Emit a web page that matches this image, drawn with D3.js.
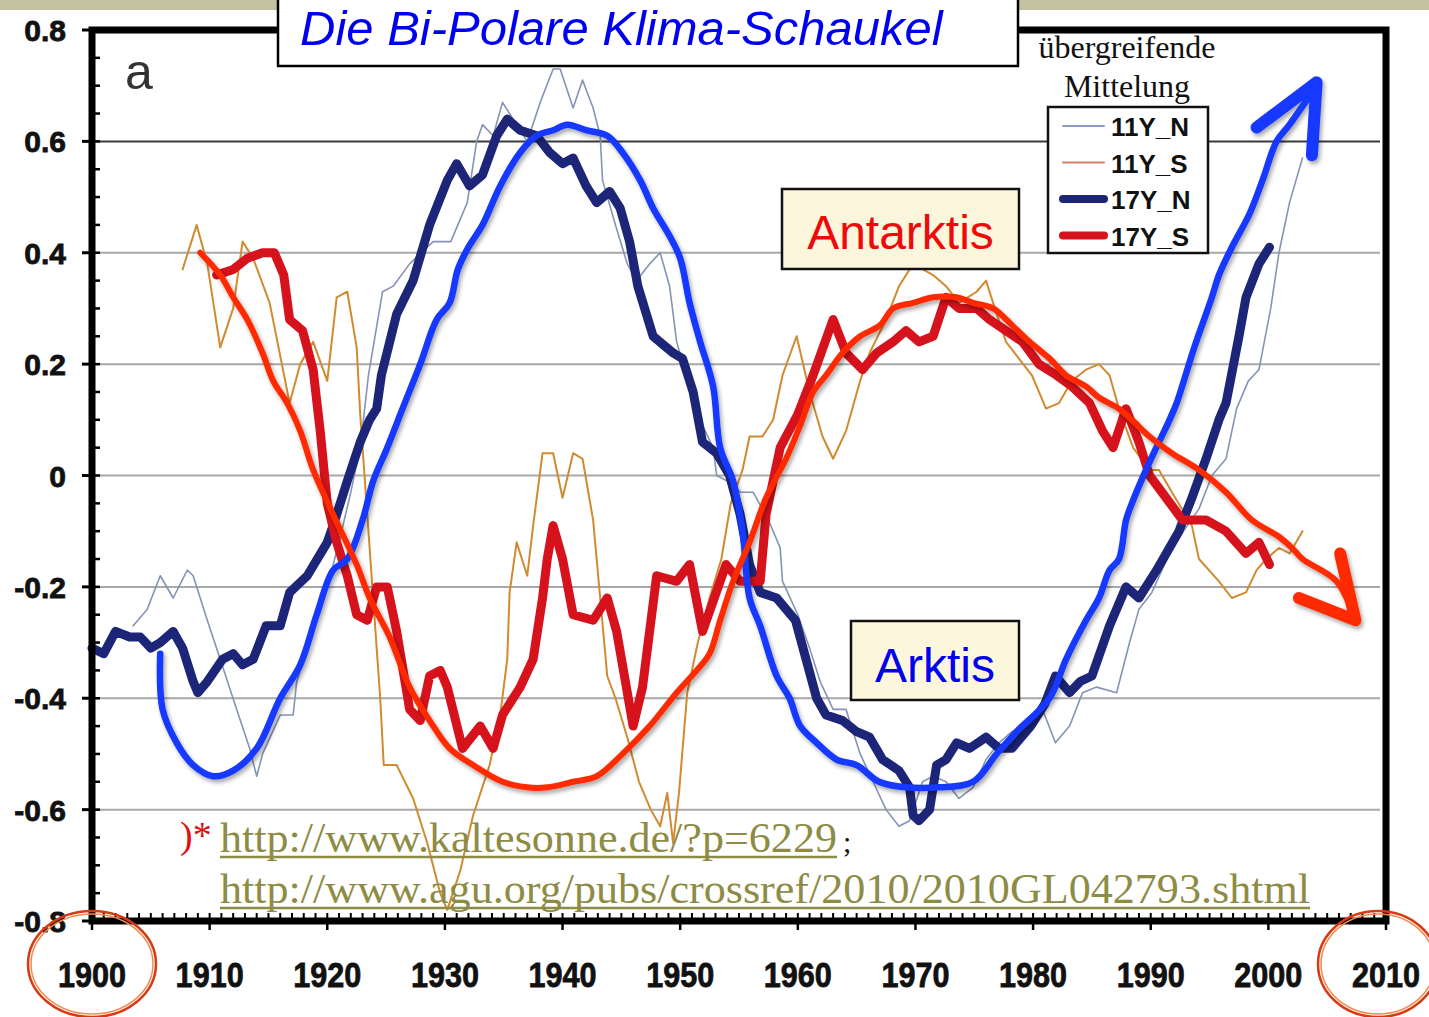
<!DOCTYPE html>
<html>
<head>
<meta charset="utf-8">
<script src="https://cdnjs.cloudflare.com/ajax/libs/d3/7.8.5/d3.min.js"></script>
<style>
body { margin: 0; background: #fff; }
svg { display: block; }
</style>
</head>
<body>
<div id="chart"></div>
<script>
// values: [year, anomaly]
var north11 = [[1903.5,-0.27],[1904.7,-0.24],[1905.8,-0.18],[1906.9,-0.22],[1908.1,-0.17],[1908.6,-0.18],[1909.8,-0.26],[1910.9,-0.33],[1912.3,-0.42],[1913.4,-0.49],[1914,-0.54],[1914.5,-0.50],[1916,-0.43],[1917.1,-0.43],[1917.4,-0.37],[1918.5,-0.30],[1920,-0.20],[1921,-0.12],[1922,-0.03],[1922.8,0.05],[1923.5,0.18],[1924.7,0.33],[1925.6,0.34],[1927,0.38],[1929,0.42],[1930.5,0.42],[1931.9,0.49],[1932.7,0.60],[1933.2,0.63],[1934.1,0.61],[1934.9,0.67],[1935.8,0.64],[1937,0.60],[1938.1,0.67],[1939.2,0.73],[1939.8,0.73],[1940.9,0.66],[1941.7,0.71],[1942.6,0.66],[1943.2,0.61],[1943.4,0.53],[1944.5,0.45],[1945.5,0.38],[1946.3,0.35],[1947.4,0.38],[1948.3,0.40],[1949.1,0.34],[1949.7,0.24],[1950.8,0.16],[1951.9,0.09],[1952.8,0.05],[1953.1,0.00],[1954,-0.01],[1955.1,-0.03],[1956.2,-0.03],[1957.5,-0.08],[1958.5,-0.13],[1958.7,-0.19],[1960,-0.25],[1961,-0.31],[1961.9,-0.37],[1963,-0.42],[1964.1,-0.42],[1965.3,-0.50],[1966.4,-0.55],[1967.5,-0.60],[1968.6,-0.63],[1969.5,-0.62],[1970.6,-0.55],[1971.5,-0.54],[1972.6,-0.55],[1973.7,-0.58],[1974.9,-0.56],[1976,-0.51],[1977.1,-0.48],[1978.2,-0.46],[1979.7,-0.44],[1980.8,-0.42],[1981.9,-0.48],[1983.1,-0.45],[1984.2,-0.39],[1985.4,-0.38],[1987.1,-0.39],[1988.2,-0.30],[1989,-0.24],[1990.1,-0.21],[1991.8,-0.13],[1994.1,-0.06],[1995.2,0.00],[1996.4,0.03],[1997.3,0.12],[1998.3,0.17],[1999.2,0.19],[2000.2,0.30],[2000.9,0.40],[2001.8,0.49],[2002.9,0.57]];

var south11 = [[1907.7,0.37],[1908.9,0.45],[1909.8,0.38],[1910.9,0.23],[1912,0.30],[1912.8,0.42],[1913.7,0.39],[1915.1,0.31],[1916.8,0.13],[1917.7,0.20],[1918.8,0.24],[1920,0.17],[1920.8,0.32],[1921.7,0.33],[1922.5,0.23],[1922.8,0.11],[1923.4,-0.07],[1924,-0.25],[1924.5,-0.40],[1924.8,-0.52],[1925.9,-0.52],[1927.3,-0.58],[1928.5,-0.66],[1929.6,-0.75],[1930.2,-0.78],[1931.3,-0.71],[1932.4,-0.61],[1933.8,-0.52],[1934.7,-0.43],[1935.3,-0.33],[1935.5,-0.21],[1936.1,-0.12],[1937,-0.18],[1937.5,-0.09],[1938.3,0.04],[1939.2,0.04],[1940,-0.04],[1940.9,0.04],[1941.7,0.03],[1942.6,-0.08],[1943.2,-0.22],[1943.8,-0.36],[1944.5,-0.40],[1945.5,-0.47],[1946.5,-0.55],[1947.5,-0.60],[1948.3,-0.63],[1948.9,-0.57],[1949.4,-0.66],[1949.9,-0.57],[1950.6,-0.39],[1951.5,-0.30],[1952.5,-0.22],[1953.5,-0.15],[1954.3,-0.05],[1955.3,0.01],[1955.9,0.07],[1957,0.07],[1957.9,0.10],[1958.7,0.18],[1959.9,0.25],[1961,0.15],[1962.1,0.07],[1963,0.03],[1964.1,0.08],[1965.3,0.17],[1966.1,0.22],[1967.5,0.28],[1968.6,0.34],[1969.8,0.38],[1971.5,0.36],[1972.6,0.34],[1973.7,0.31],[1975.2,0.33],[1976,0.35],[1976.6,0.31],[1977.7,0.24],[1978.8,0.21],[1979.9,0.18],[1981.1,0.12],[1982.2,0.13],[1983.3,0.17],[1984.5,0.19],[1985.6,0.20],[1986.5,0.18],[1987.3,0.12],[1988.5,0.05],[1989.9,0.01],[1990.7,0.01],[1991.8,-0.03],[1993.5,-0.09],[1994.1,-0.15],[1995.8,-0.19],[1996.9,-0.22],[1998.1,-0.21],[1999,-0.17],[1999.8,-0.15],[2000.9,-0.13],[2001.8,-0.14],[2002.9,-0.10]];

var north17 = [[1900,-0.31],[1901,-0.32],[1902,-0.28],[1903.2,-0.29],[1904.1,-0.29],[1905,-0.31],[1905.8,-0.30],[1906.9,-0.28],[1907.7,-0.31],[1908.6,-0.37],[1909,-0.39],[1909.8,-0.37],[1911.1,-0.33],[1912,-0.32],[1912.8,-0.34],[1913.7,-0.33],[1914.8,-0.27],[1916,-0.27],[1916.8,-0.21],[1918.3,-0.18],[1920,-0.12],[1920.5,-0.09],[1921.7,-0.01],[1922.8,0.06],[1923.6,0.10],[1924.2,0.12],[1924.6,0.18],[1925.9,0.29],[1927.3,0.35],[1928.7,0.45],[1930.2,0.53],[1931,0.56],[1932.1,0.52],[1933.2,0.54],[1934.4,0.61],[1935.3,0.64],[1936.4,0.62],[1937.8,0.61],[1938.9,0.58],[1940,0.56],[1940.9,0.57],[1942,0.52],[1942.9,0.49],[1944,0.51],[1944.9,0.48],[1945.7,0.42],[1946.4,0.34],[1947.7,0.25],[1949.4,0.22],[1950.2,0.21],[1951.1,0.15],[1951.9,0.06],[1953.1,0.04],[1954.2,0.00],[1955.1,-0.07],[1955.9,-0.16],[1956.8,-0.21],[1958.2,-0.22],[1959.8,-0.26],[1960.7,-0.33],[1961.6,-0.40],[1962.4,-0.43],[1963.8,-0.44],[1965,-0.46],[1966.1,-0.47],[1967.2,-0.51],[1968.6,-0.53],[1969.5,-0.56],[1969.8,-0.61],[1970.3,-0.62],[1971.2,-0.60],[1971.8,-0.52],[1972.6,-0.51],[1973.5,-0.48],[1974.6,-0.49],[1976,-0.47],[1977.1,-0.49],[1978.2,-0.49],[1979.8,-0.45],[1981,-0.41],[1981.9,-0.36],[1983.1,-0.39],[1984,-0.37],[1985,-0.36],[1986.5,-0.27],[1987.9,-0.20],[1989,-0.22],[1990.5,-0.17],[1992.4,-0.10],[1993.5,-0.04],[1994.7,0.03],[1995.8,0.10],[1996.4,0.13],[1997.5,0.25],[1998.1,0.32],[1999.2,0.38],[2000.1,0.41]];

var south17 = [[1910.6,0.36],[1912,0.37],[1913.2,0.39],[1914.5,0.40],[1915.5,0.40],[1916.3,0.36],[1916.8,0.28],[1917.9,0.26],[1918.8,0.19],[1919.4,0.08],[1920,-0.05],[1920.8,-0.12],[1921.7,-0.18],[1922.5,-0.25],[1923.4,-0.26],[1924.2,-0.20],[1925.1,-0.20],[1925.9,-0.28],[1927,-0.42],[1927.9,-0.44],[1928.7,-0.36],[1929.6,-0.35],[1930.2,-0.38],[1931.5,-0.49],[1933,-0.45],[1934.1,-0.49],[1934.9,-0.43],[1936.4,-0.38],[1937.5,-0.33],[1938.3,-0.22],[1938.7,-0.15],[1939.2,-0.09],[1940,-0.15],[1940.9,-0.25],[1942.6,-0.26],[1943.8,-0.22],[1944.6,-0.28],[1946,-0.45],[1946.8,-0.38],[1948,-0.18],[1949.7,-0.19],[1950.8,-0.16],[1951.9,-0.28],[1953.9,-0.16],[1955.1,-0.19],[1956.8,-0.19],[1957.3,-0.07],[1958.5,0.05],[1960,0.11],[1961.3,0.18],[1963,0.28],[1964.1,0.22],[1965.5,0.19],[1966.7,0.22],[1968.1,0.24],[1969.2,0.26],[1970.3,0.24],[1971.5,0.25],[1972.6,0.32],[1973.7,0.30],[1975.2,0.30],[1976.3,0.28],[1977.7,0.26],[1979.1,0.24],[1980.5,0.20],[1982,0.18],[1983.3,0.16],[1984.8,0.13],[1985.9,0.08],[1986.8,0.05],[1987.9,0.12],[1989,0.06],[1989.9,0.00],[1991.3,-0.04],[1992.7,-0.08],[1994.7,-0.08],[1996.4,-0.10],[1998.1,-0.14],[1999.2,-0.12],[2000.1,-0.16]];

// hand drawn trend curves laid over the chart
var arcticTrend = [[1905.8,-0.32],[1906,-0.42],[1907.2,-0.48],[1908.6,-0.52],[1910.3,-0.54],[1912,-0.53],[1914,-0.49],[1916,-0.40],[1917.7,-0.34],[1919.1,-0.25],[1920.5,-0.17],[1921.7,-0.15],[1923,-0.08],[1923.9,-0.01],[1925.1,0.05],[1926.4,0.12],[1927.9,0.20],[1929.3,0.28],[1930.4,0.31],[1931.1,0.37],[1932,0.41],[1933.2,0.45],[1934.7,0.52],[1936.4,0.58],[1937.8,0.61],[1939.2,0.62],[1940.4,0.63],[1942,0.62],[1943.8,0.61],[1945.1,0.58],[1946.6,0.53],[1947.7,0.48],[1949.1,0.43],[1950,0.39],[1950.8,0.31],[1951.7,0.24],[1952.8,0.16],[1953.4,0.05],[1954.5,-0.01],[1955.3,-0.10],[1955.9,-0.22],[1956.8,-0.27],[1958.2,-0.36],[1959.3,-0.40],[1960.2,-0.45],[1961.6,-0.48],[1963.3,-0.51],[1965,-0.52],[1966.9,-0.55],[1969.2,-0.56],[1972,-0.56],[1974.9,-0.55],[1976.9,-0.50],[1978.6,-0.46],[1981.4,-0.40],[1982.8,-0.33],[1984.5,-0.26],[1985.6,-0.22],[1986.5,-0.17],[1987.3,-0.15],[1987.9,-0.08],[1988.4,-0.05],[1989.6,0.01],[1990.7,0.06],[1991.6,0.10],[1992.2,0.13],[1993.7,0.23],[1995.2,0.32],[1995.8,0.36],[1996.9,0.41],[1998.4,0.47],[1999.5,0.53],[2000.7,0.60],[2001.8,0.63],[2004.1,0.70]];
var arcticArrow = [[1999,0.625],[2004.1,0.706],[2003.7,0.575]];

var antarcticTrend = [[1909.2,0.40],[1910.9,0.36],[1912,0.32],[1913.2,0.28],[1914.5,0.22],[1915.4,0.17],[1916.6,0.13],[1917.7,0.08],[1918.8,0.01],[1920.5,-0.07],[1922.5,-0.16],[1923.6,-0.22],[1925.3,-0.29],[1927,-0.38],[1928.7,-0.44],[1930.4,-0.49],[1932.4,-0.52],[1934.9,-0.55],[1937,-0.56],[1938.7,-0.56],[1940.9,-0.55],[1942.9,-0.54],[1945.1,-0.50],[1947.4,-0.45],[1949.7,-0.39],[1951.4,-0.35],[1952.5,-0.32],[1953.4,-0.26],[1954.5,-0.19],[1955.9,-0.12],[1957.3,-0.04],[1959,0.03],[1960.2,0.09],[1961.3,0.15],[1962.4,0.18],[1963.8,0.22],[1965.3,0.25],[1967,0.27],[1968.1,0.30],[1969.8,0.31],[1971.5,0.32],[1973.5,0.32],[1974.9,0.31],[1976.6,0.30],[1978.2,0.27],[1979.7,0.24],[1981.4,0.21],[1982.8,0.18],[1984.5,0.16],[1985.6,0.14],[1987.3,0.12],[1988.4,0.10],[1989.9,0.07],[1991.8,0.04],[1994.1,0.01],[1996.4,-0.03],[1998.6,-0.08],[2000.9,-0.11],[2002,-0.13],[2002.9,-0.15],[2005.8,-0.19],[2007.4,-0.26]];
var antarcticArrow = [[2006.1,-0.14],[2007.4,-0.26],[2002.6,-0.22]];

var yearTicks = [1900,1910,1920,1930,1940,1950,1960,1970,1980,1990,2000,2010];
var valueTicks = [0.8,0.6,0.4,0.2,0,-0.2,-0.4,-0.6,-0.8];
var valueLabels = ["0.8","0.6","0.4","0.2","0","-0.2","-0.4","-0.6","-0.8"];
var gridValues = [0.6,0.4,0.2,0,-0.2,-0.4,-0.6];
var legendNames = ["11Y_N","11Y_S","17Y_N","17Y_S"];

var width = 1429;
var height = 1017;

var svg = d3.select("#chart")
  .append("svg")
  .attr("width", width)
  .attr("height", height);

var x = d3.scaleLinear().domain([1900, 2010]).range([92, 1386]);
var y = d3.scaleLinear().domain([-0.8, 0.8]).range([921, 30]);

var defs = svg.append("defs");
var shadow = defs.append("filter").attr("id", "shadow")
  .attr("x", "-5%").attr("y", "-5%").attr("width", "110%").attr("height", "110%");
shadow.append("feDropShadow")
  .attr("dx", 2).attr("dy", 3).attr("stdDeviation", 2)
  .attr("flood-color", "#000").attr("flood-opacity", 0.35);

svg.append("rect").attr("width", width).attr("height", height).attr("fill", "#fff");
// khaki strip at the very top
svg.append("rect").attr("width", width).attr("height", 10).attr("fill", "#c6c3a2");

// grid
svg.append("g").selectAll("line")
  .data(gridValues)
  .enter().append("line")
  .attr("x1", x(1900) + 4).attr("x2", x(2010) - 6)
  .attr("y1", function(d) { return y(d); })
  .attr("y2", function(d) { return y(d); })
  .attr("stroke", function(d) { return d === 0.6 ? "#3a3a3a" : "#a8a8a8"; })
  .attr("stroke-width", 2);

var line = d3.line()
  .x(function(d) { return x(d[0]); })
  .y(function(d) { return y(d[1]); });

var smooth = d3.line()
  .x(function(d) { return x(d[0]); })
  .y(function(d) { return y(d[1]); })
  .curve(d3.curveCatmullRom);

var series = [
  { data: north11, color: "#8593b6", w: 1.6 },
  { data: south11, color: "#d28a30", w: 2 },
  { data: north17, color: "#1c2578", w: 9 },
  { data: south17, color: "#d6121c", w: 9 }
];

svg.append("g").selectAll("path")
  .data(series)
  .enter().append("path")
  .attr("d", function(d) { return line(d.data); })
  .attr("fill", "none")
  .attr("stroke", function(d) { return d.color; })
  .attr("stroke-width", function(d) { return d.w; })
  .attr("stroke-linejoin", "round")
  .attr("stroke-linecap", "round");

// frame
var frame = svg.append("g");
frame.append("rect")
  .attr("x", x(1900)).attr("y", y(0.8))
  .attr("width", x(2010) - x(1900)).attr("height", y(-0.8) - y(0.8))
  .attr("fill", "none").attr("stroke", "#000").attr("stroke-width", 7);

// minor ticks
frame.selectAll(".ym")
  .data(d3.range(-0.8, 0.801, 0.05))
  .enter().append("line")
  .attr("x1", x(1900)).attr("x2", x(1900) + 8)
  .attr("y1", function(d) { return y(d); }).attr("y2", function(d) { return y(d); })
  .attr("stroke", "#000").attr("stroke-width", 2.5);
frame.selectAll(".yM")
  .data(valueTicks)
  .enter().append("line")
  .attr("x1", x(1900) - 10).attr("x2", x(1900))
  .attr("y1", function(d) { return y(d); }).attr("y2", function(d) { return y(d); })
  .attr("stroke", "#000").attr("stroke-width", 3);
frame.selectAll(".xm")
  .data(d3.range(1900, 2011, 1))
  .enter().append("line")
  .attr("x1", function(d) { return x(d); }).attr("x2", function(d) { return x(d); })
  .attr("y1", y(-0.8)).attr("y2", y(-0.8) - 8)
  .attr("stroke", "#000").attr("stroke-width", 2);
frame.selectAll(".xM")
  .data(yearTicks)
  .enter().append("line")
  .attr("x1", function(d) { return x(d); }).attr("x2", function(d) { return x(d); })
  .attr("y1", y(-0.8)).attr("y2", y(-0.8) + 9)
  .attr("stroke", "#000").attr("stroke-width", 2.5);

// tick labels
svg.append("g").selectAll("text")
  .data(valueTicks)
  .enter().append("text")
  .attr("x", 66)
  .attr("y", function(d) { return y(d) + 11; })
  .attr("text-anchor", "end")
  .attr("font-family", "Liberation Sans, Arial, sans-serif")
  .attr("font-weight", "bold")
  .attr("font-size", 30)
  .attr("fill", "#111")
  .attr("stroke", "#111").attr("stroke-width", 0.8)
  .text(function(d, i) { return valueLabels[i]; });

svg.append("g").selectAll("text")
  .data(yearTicks)
  .enter().append("text")
  .attr("transform", function(d) { return "translate(" + x(d) + ",987) scale(0.85,1)"; })
  .attr("text-anchor", "middle")
  .attr("font-family", "Liberation Sans, Arial, sans-serif")
  .attr("font-weight", "bold")
  .attr("font-size", 36)
  .attr("fill", "#111")
  .attr("stroke", "#111").attr("stroke-width", 0.8)
  .text(function(d) { return d; });

svg.append("text")
  .attr("x", 125).attr("y", 89)
  .attr("font-family", "Liberation Sans, Arial, sans-serif")
  .attr("font-size", 50)
  .attr("fill", "#333")
  .text("a");

// hand drawn curves
var hand = svg.append("g").attr("filter", "url(#shadow)")
  .attr("fill", "none").attr("stroke-linecap", "round").attr("stroke-linejoin", "round");
hand.append("path").attr("d", smooth(arcticTrend)).attr("stroke", "#1238ff").attr("stroke-width", 6.5);
hand.append("path").attr("d", line(arcticArrow)).attr("stroke", "#1238ff").attr("stroke-width", 12);
hand.append("path").attr("d", smooth(antarcticTrend)).attr("stroke", "#ff2a00").attr("stroke-width", 6);
hand.append("path").attr("d", line(antarcticArrow)).attr("stroke", "#ff2a00").attr("stroke-width", 12);

// circles round 1900 and 2010
[[x(1900), 64], [x(2010) - 8, 60]].forEach(function(c) {
  svg.append("ellipse").attr("cx", c[0]).attr("cy", 964).attr("rx", c[1]).attr("ry", 53)
    .attr("fill", "none").attr("stroke", "#d83a12").attr("stroke-width", 2.5);
  svg.append("ellipse").attr("cx", c[0]).attr("cy", 964).attr("rx", c[1] - 3).attr("ry", 50)
    .attr("fill", "none").attr("stroke", "#f58a50").attr("stroke-width", 1.5);
});

// title box
svg.append("rect").attr("x", 278).attr("y", -4).attr("width", 740).attr("height", 70)
  .attr("fill", "#fff").attr("stroke", "#000").attr("stroke-width", 2.5);
svg.append("text")
  .attr("x", 300).attr("y", 45)
  .attr("font-family", "Liberation Sans, Arial, sans-serif")
  .attr("font-style", "italic")
  .attr("font-size", 49)
  .attr("fill", "#0000f0")
  .text("Die Bi-Polare Klima-Schaukel");

// legend heading
var head = svg.append("g")
  .attr("font-family", "Liberation Serif, Times New Roman, serif")
  .attr("font-size", 32).attr("fill", "#111").attr("text-anchor", "middle");
head.append("text").attr("x", 1127).attr("y", 58).text("übergreifende");
head.append("text").attr("x", 1127).attr("y", 97).text("Mittelung");

// legend
var legend = svg.append("g");
legend.append("rect").attr("x", 1048).attr("y", 107).attr("width", 160).attr("height", 146)
  .attr("fill", "#fff").attr("stroke", "#111").attr("stroke-width", 2.5);
var legendStyle = [
  { color: "#8a9ac4", w: 2 },
  { color: "#d4806a", w: 2 },
  { color: "#1c2578", w: 8 },
  { color: "#d6121c", w: 8 }
];
var rows = legend.selectAll("g.row")
  .data(legendNames)
  .enter().append("g")
  .attr("transform", function(d, i) { return "translate(0," + (126 + i * 36.5) + ")"; });
rows.append("line")
  .attr("x1", 1063).attr("x2", 1104).attr("y1", 0).attr("y2", 0)
  .attr("stroke", function(d, i) { return legendStyle[i].color; })
  .attr("stroke-width", function(d, i) { return legendStyle[i].w; })
  .attr("stroke-linecap", "round");
rows.append("text")
  .attr("x", 1111).attr("y", 10)
  .attr("font-family", "Liberation Sans, Arial, sans-serif")
  .attr("font-weight", "bold")
  .attr("font-size", 26)
  .attr("fill", "#111")
  .text(function(d) { return d; });

// Antarktis / Arktis boxes
function labelBox(bx, by, bw, bh, txt, color, ty) {
  svg.append("rect").attr("x", bx).attr("y", by).attr("width", bw).attr("height", bh)
    .attr("fill", "#fbf6dc").attr("stroke", "#111").attr("stroke-width", 2.5);
  svg.append("text").attr("x", bx + bw / 2).attr("y", ty)
    .attr("text-anchor", "middle")
    .attr("font-family", "Liberation Sans, Arial, sans-serif")
    .attr("font-size", 48)
    .attr("fill", color)
    .text(txt);
}
labelBox(782, 189, 237, 80, "Antarktis", "#ee0a0a", 249);
labelBox(851, 621, 168, 79, "Arktis", "#0000ee", 682);

// footnote
var note = svg.append("g").attr("font-family", "Liberation Serif, Times New Roman, serif");
note.append("text").attr("x", 180).attr("y", 848).attr("font-size", 38).attr("fill", "#e01010").text(")*");
note.append("text").attr("x", 220).attr("y", 852).attr("font-size", 43).attr("fill", "#8e8c44")
  .attr("textLength", 617).attr("lengthAdjust", "spacingAndGlyphs")
  .text("http://www.kaltesonne.de/?p=6229");
note.append("text").attr("x", 843).attr("y", 852).attr("font-size", 30).attr("fill", "#111").text(";");
note.append("text").attr("x", 220).attr("y", 903).attr("font-size", 43).attr("fill", "#8e8c44")
  .attr("textLength", 1090).attr("lengthAdjust", "spacingAndGlyphs")
  .text("http://www.agu.org/pubs/crossref/2010/2010GL042793.shtml");
note.append("line").attr("x1", 220).attr("x2", 837).attr("y1", 857).attr("y2", 857)
  .attr("stroke", "#8e8c44").attr("stroke-width", 2.5);
note.append("line").attr("x1", 220).attr("x2", 1310).attr("y1", 908).attr("y2", 908)
  .attr("stroke", "#8e8c44").attr("stroke-width", 2.5);
</script>
</body>
</html>
